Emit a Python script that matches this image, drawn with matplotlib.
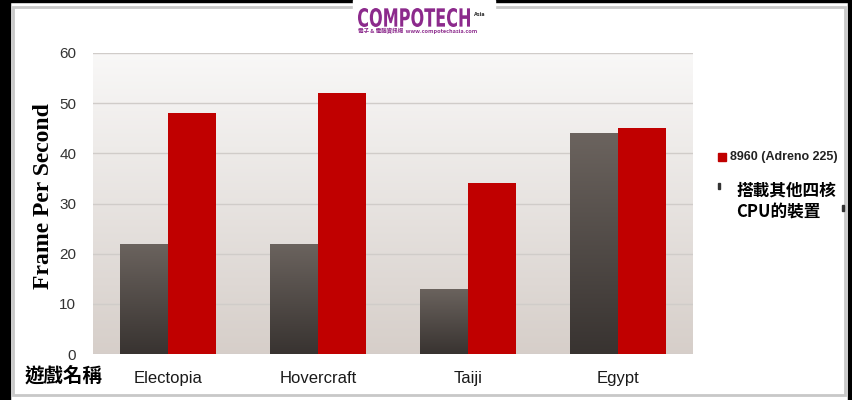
import numpy as np
import matplotlib.pyplot as plt
from matplotlib.patches import Rectangle, PathPatch
from matplotlib.textpath import TextPath
from matplotlib.font_manager import FontProperties
from matplotlib.transforms import Affine2D, IdentityTransform

# game names and fps values
games = ["Electopia", "Hovercraft", "Taiji", "Egypt"]
other_quad = [22, 22, 13, 44]
adreno = [48, 52, 34, 45]
yticks = [0, 10, 20, 30, 40, 50, 60]

W, H = 852, 400
fig = plt.figure(figsize=(W / 100, H / 100), dpi=100)
fig.patch.set_facecolor("white")

# helper: pixel position from top-left -> figure coords
def fx(px):
    return px / W

def fy(py):
    return 1 - py / H

# frame around the picture (black outer, light gray inner)
fig.patches.append(Rectangle((0, 0), fx(10), 1, transform=fig.transFigure, color="black", zorder=0))
fig.patches.append(Rectangle((fx(848), 0), fx(4), 1, transform=fig.transFigure, color="black", zorder=0))
fig.patches.append(Rectangle((0, fy(2)), 1, 2 / H, transform=fig.transFigure, color="black", zorder=0))
fig.patches.append(Rectangle((fx(13), fy(395)), fx(832), 388 / H, transform=fig.transFigure,
                             fill=False, ec="#c8c8c8", lw=2, zorder=1))

ax = fig.add_axes([fx(93), 46 / H, fx(600), 301 / H])

# plot area gradient, light at top, darker at bottom
grad = np.linspace(0, 1, 256).reshape(-1, 1)
top = np.array([0.975, 0.972, 0.970])
bot = np.array([0.84, 0.81, 0.79])
img = top + (bot - top) * grad[..., None]
ax.imshow(img, extent=(-0.5, 3.5, 0, 60), origin="upper", aspect="auto", zorder=0)

for y in yticks:
    ax.axhline(y, color="#d0ccc9", lw=1, zorder=1)

w = 0.32
x = np.arange(len(games))
g_top = np.array([0.42, 0.39, 0.37])
g_bot = np.array([0.22, 0.20, 0.19])
g_img = g_top + (g_bot - g_top) * grad[..., None]

bars = ax.bar(x - w / 2, other_quad, w, color="none", zorder=2)
for b in bars:
    im = ax.imshow(g_img, extent=(b.get_x(), b.get_x() + b.get_width(), 0, b.get_height()),
                   origin="upper", aspect="auto", zorder=2)
    im.set_clip_path(b)
ax.bar(x + w / 2, adreno, w, color="#c00000", zorder=3)
ax.set_xlim(-0.5, 3.5)
ax.set_ylim(0, 60)

for s in ax.spines.values():
    s.set_visible(False)
ax.set_yticks(yticks)
ax.set_yticklabels([str(t) for t in yticks], fontsize=11, color="#333333", family="Liberation Sans")
ax.tick_params(axis="y", length=0, pad=12)
ax.set_xticks(x)
ax.set_xticklabels(games, fontsize=12, color="#1a1a1a", family="Liberation Sans")
ax.tick_params(axis="x", length=0, pad=12)

fig.text(fx(44), fy(196), "Frame Per Second", rotation=90, ha="center", va="center",
         fontsize=17, fontweight="bold", family="Liberation Serif")
fig.text(fx(25), fy(376), "遊戲名稱", ha="left", va="center", fontsize=14,
         fontweight="bold", family=["Noto Sans CJK TC", "DejaVu Sans"])

# legend
fig.patches.append(Rectangle((fx(718), fy(161)), 8 / W, 8 / H, transform=fig.transFigure,
                             color="#c00000"))
fig.text(fx(730), fy(157), "8960 (Adreno 225)", ha="left", va="center", fontsize=9,
         fontweight="bold", color="#222222", family="Liberation Sans")
fig.patches.append(Rectangle((fx(718), fy(189)), 2 / W, 6 / H, transform=fig.transFigure,
                             color="#333333"))
fig.patches.append(Rectangle((fx(842), fy(211)), 2 / W, 6 / H, transform=fig.transFigure,
                             color="#333333"))
fig.text(fx(736), fy(201), "搭載其他四核\nCPU的裝置", ha="left", va="center", fontsize=12,
         fontweight="bold", linespacing=1.2, family=["Noto Sans CJK TC", "DejaVu Sans"])

# logo at top: white box, condensed purple wordmark
fig.patches.append(Rectangle((fx(353), fy(37)), 142 / W, 37 / H, transform=fig.transFigure,
                             color="white", zorder=2))
tp = TextPath((0, 0), "COMPOTECH", size=20, prop=FontProperties(family="DejaVu Sans", weight="bold"))
bb = tp.get_extents()
sx, sy = 112 / bb.width, 19 / bb.height
logo_tf = Affine2D().translate(-bb.x0, -bb.y0).scale(sx, sy).translate(358, H - 27)
fig.patches.append(PathPatch(logo_tf.transform_path(tp), transform=IdentityTransform(),
                             fc="#8c2a8c", ec="none", zorder=3))
fig.text(fx(474), fy(14), "Asia", ha="left", va="center", fontsize=3.5,
         fontweight="bold", color="#333333", zorder=3)
fig.text(fx(358), fy(31), "電子 & 電腦資訊網  www.compotechasia.com", ha="left", va="center",
         fontsize=4, fontweight="bold", color="#8c2a8c",
         family=["Noto Sans CJK TC", "DejaVu Sans"], zorder=3)

fig.savefig("out.png", dpi=100)
